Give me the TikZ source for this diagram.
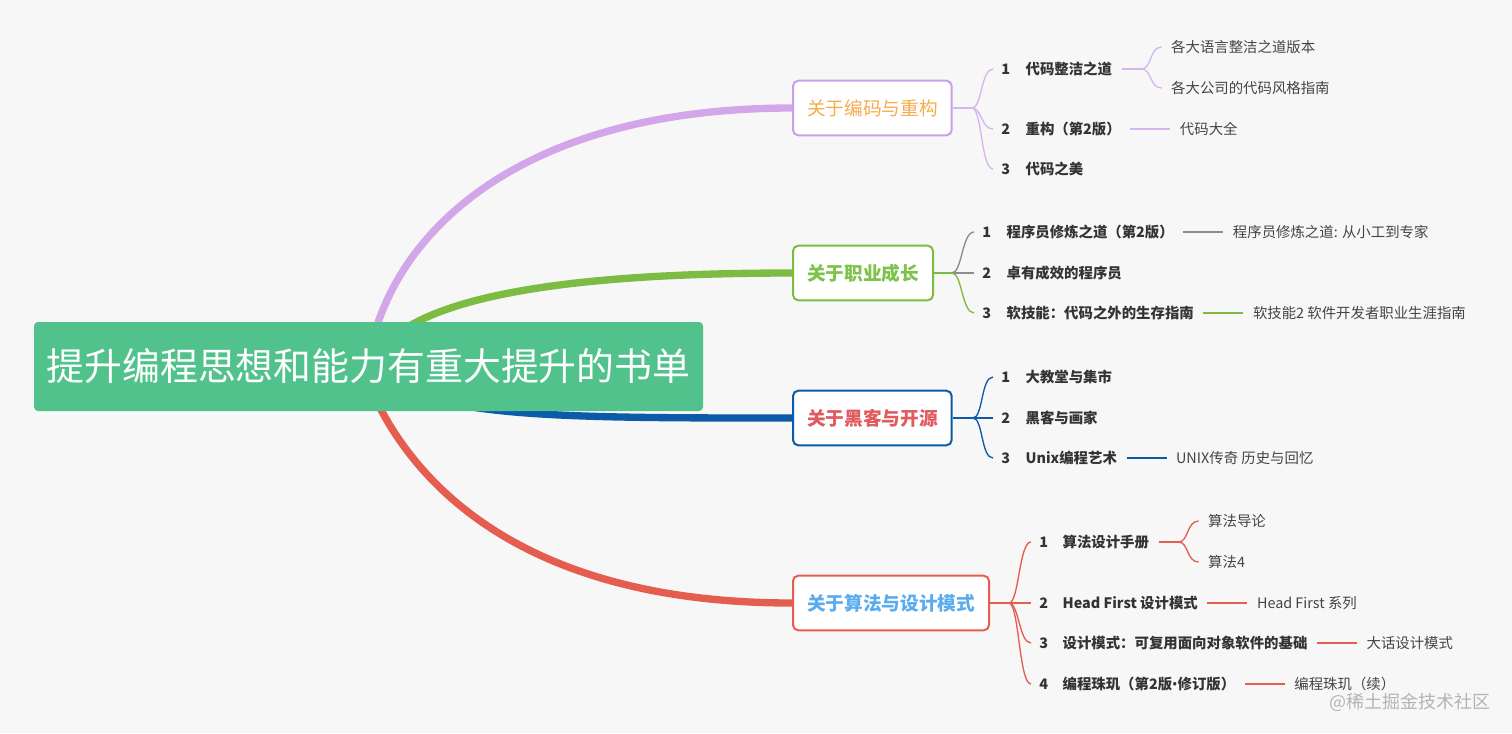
\documentclass[tikz,border=0pt]{standalone}
\usepackage{fontspec}
\setmainfont{Noto Sans CJK SC}
\newfontfamily\latinbullet{Noto Sans}
\usetikzlibrary{calc}
\pgfdeclarelayer{back}
\pgfdeclarelayer{mid}
\pgfsetlayers{back,mid,main}
\definecolor{bg}{HTML}{F7F7F7}
\definecolor{rootc}{HTML}{52C28D}
\definecolor{purp}{HTML}{D3A6E9}
\definecolor{purpb}{HTML}{C9A0E6}
\definecolor{purpl}{HTML}{D7B6EE}
\definecolor{orng}{HTML}{F5AC4C}
\definecolor{grn}{HTML}{7DBB42}
\definecolor{grnt}{HTML}{7DC24A}
\definecolor{blu}{HTML}{0B5BA8}
\definecolor{redt}{HTML}{E05A5E}
\definecolor{red}{HTML}{E55D4F}
\definecolor{blut}{HTML}{5AACF0}
\definecolor{txt}{HTML}{333333}
\definecolor{subtxt}{HTML}{444444}
\definecolor{gry}{HTML}{8C8C8C}
\definecolor{wm}{HTML}{B4B4B4}
\begin{document}
\begin{tikzpicture}[x=0.75pt,y=-0.75pt,
  rootbox/.style={fill=rootc, rounded corners=3pt, text=white, font=\fontsize{28.4}{34}\selectfont, minimum width=501.75pt, minimum height=66.75pt, inner sep=0pt},
  bbox/.style={draw, line width=1.5pt, fill=white, rounded corners=4pt, minimum height=41pt, inner xsep=10.5pt, inner ysep=0pt, font=\fontsize{14}{16}\selectfont},
  bboxb/.style={bbox, font=\bfseries\fontsize{14}{16}\selectfont},
  num/.style={inner xsep=6pt, inner ysep=0pt, font=\bfseries\fontsize{10.8}{13}\selectfont, text=txt},
  ctext/.style={inner xsep=7pt, inner ysep=0pt, font=\bfseries\fontsize{10.8}{13}\selectfont, text=txt},
  stext/.style={inner xsep=7pt, inner ysep=0pt, font=\fontsize{10.8}{13}\selectfont, text=subtxt},
  mainline/.style={line width=5.5pt},
  link/.style={line width=1pt}
]
\begin{pgfonlayer}{back}
\fill[bg] (0,0) rectangle (1512,733);
\end{pgfonlayer}
\useasboundingbox (0,0) rectangle (1512,733);

% branch boxes
\node[bbox, draw=purpb, text=orng, anchor=west] (b1) at (792,108) {关于编码与重构};
\node[bboxb, draw=grn, text=grnt, anchor=west] (b2) at (792,273) {关于职业成长};
\node[bboxb, draw=blu, text=redt, anchor=west] (b3) at (792,418) {关于黑客与开源};
\node[bboxb, draw=red, text=blut, anchor=west] (b4) at (792,603) {关于算法与设计模式};

% root
\node[rootbox] (root) at (368.5,366.5) {提升编程思想和能力有重大提升的书单};

% start points of the main curves, hidden behind the root
\coordinate (p1) at (375,332);
\coordinate (p2) at (400,332);
\coordinate (p3) at (370,366);
\coordinate (p4) at (376,400);

% main curves (behind the root and the boxes)
\begin{pgfonlayer}{mid}
\draw[mainline, purp] (p1) .. controls (410,215) and (540,108) .. (b1.west);
\draw[mainline, grn] (p2) .. controls (460,290) and (600,273) .. (b2.west);
\draw[mainline, blu] (p3) .. controls (420,418) and (550,418) .. (b3.west);
\draw[mainline, red] (p4) .. controls (420,490) and (530,603) .. (b4.west);
\end{pgfonlayer}

% ---------- branch 1 ----------
\coordinate (f1) at (972,108);
\node[num, anchor=west] (n11) at (993,69) {1};
\node[num, anchor=west] (n12) at (993,129) {2};
\node[num, anchor=west] (n13) at (993,169) {3};
\node[ctext, anchor=west] (c11) at (1016,69) {代码整洁之道};
\node[ctext, anchor=west] (c12) at (1016,129) {重构（第2版）};
\node[ctext, anchor=west] (c13) at (1016,169) {代码之美};
\draw[link, purpl] (b1.east) -- (f1);
\foreach \n in {n11,n12,n13} \draw[link, purpl] (f1) .. controls +(10,0) and +(-12,0) .. (\n.west);
\coordinate (f11) at ($(c11.east)+(20,0)$);
\node[stext, anchor=west] (s11a) at ($(c11.east)+(40,-22)$) {各大语言整洁之道版本};
\node[stext, anchor=west] (s11b) at ($(c11.east)+(40,19)$) {各大公司的代码风格指南};
\draw[link, purpl] (c11.east) -- (f11);
\draw[link, purpl] (f11) .. controls +(10,0) and +(-12,0) .. (s11a.west);
\draw[link, purpl] (f11) .. controls +(10,0) and +(-12,0) .. (s11b.west);
\node[stext, anchor=west] (s12) at ($(c12.east)+(40,0)$) {代码大全};
\draw[link, purpl] (c12.east) -- (s12.west);

% ---------- branch 2 ----------
\coordinate (f2) at (952,273);
\node[num, anchor=west] (n21) at (974,232) {1};
\node[num, anchor=west] (n22) at (974,273) {2};
\node[num, anchor=west] (n23) at (974,313) {3};
\node[ctext, anchor=west] (c21) at (997,232) {程序员修炼之道（第2版）};
\node[ctext, anchor=west] (c22) at (997,273) {卓有成效的程序员};
\node[ctext, anchor=west] (c23) at (997,313) {软技能：代码之外的生存指南};
\draw[link, grn] (b2.east) -- (f2);
\draw[link, gry] (f2) .. controls +(10,0) and +(-12,0) .. (n21.west);
\draw[link, gry] (f2) -- (n22.west);
\draw[link, grn] (f2) .. controls +(10,0) and +(-12,0) .. (n23.west);
\node[stext, anchor=west] (s21) at ($(c21.east)+(40,0)$) {程序员修炼之道: 从小工到专家};
\draw[link, gry] (c21.east) -- (s21.west);
\node[stext, anchor=west] (s23) at ($(c23.east)+(40,0)$) {软技能2 软件开发者职业生涯指南};
\draw[link, grn] (c23.east) -- (s23.west);

% ---------- branch 3 ----------
\coordinate (f3) at (973,418);
\node[num, anchor=west] (n31) at (993,377) {1};
\node[num, anchor=west] (n32) at (993,418) {2};
\node[num, anchor=west] (n33) at (993,458) {3};
\node[ctext, anchor=west] (c31) at (1016,377) {大教堂与集市};
\node[ctext, anchor=west] (c32) at (1016,418) {黑客与画家};
\node[ctext, anchor=west] (c33) at (1016,458) {Unix编程艺术};
\draw[link, blu] (b3.east) -- (f3);
\draw[link, blu] (f3) .. controls +(10,0) and +(-12,0) .. (n31.west);
\draw[link, blu] (f3) -- (n32.west);
\draw[link, blu] (f3) .. controls +(10,0) and +(-12,0) .. (n33.west);
\node[stext, anchor=west] (s33) at ($(c33.east)+(40,0)$) {UNIX传奇 历史与回忆};
\draw[link, blu] (c33.east) -- (s33.west);

% ---------- branch 4 ----------
\coordinate (f4) at (1009,603);
\node[num, anchor=west] (n41) at (1031,542) {1};
\node[num, anchor=west] (n42) at (1031,603) {2};
\node[num, anchor=west] (n43) at (1031,643) {3};
\node[num, anchor=west] (n44) at (1031,684) {4};
\node[ctext, anchor=west] (c41) at (1053,542) {算法设计手册};
\node[ctext, anchor=west] (c42) at (1053,603) {Head First 设计模式};
\node[ctext, anchor=west] (c43) at (1053,643) {设计模式：可复用面向对象软件的基础};
\node[ctext, anchor=west] (c44) at (1053,684) {编程珠玑（第2版{\latinbullet •}修订版）};
\draw[link, red] (b4.east) -- (f4);
\draw[link, red] (f4) .. controls +(10,0) and +(-12,0) .. (n41.west);
\draw[link, red] (f4) -- (n42.west);
\draw[link, red] (f4) .. controls +(10,0) and +(-12,0) .. (n43.west);
\draw[link, red] (f4) .. controls +(10,0) and +(-12,0) .. (n44.west);
\coordinate (f41) at ($(c41.east)+(20,0)$);
\node[stext, anchor=west] (s41a) at ($(c41.east)+(40,-21)$) {算法导论};
\node[stext, anchor=west] (s41b) at ($(c41.east)+(40,20)$) {算法4};
\draw[link, red] (c41.east) -- (f41);
\draw[link, red] (f41) .. controls +(10,0) and +(-12,0) .. (s41a.west);
\draw[link, red] (f41) .. controls +(10,0) and +(-12,0) .. (s41b.west);
\node[stext, anchor=west] (s42) at ($(c42.east)+(40,0)$) {Head First 系列};
\draw[link, red] (c42.east) -- (s42.west);
\node[stext, anchor=west] (s43) at ($(c43.east)+(40,0)$) {大话设计模式};
\draw[link, red] (c43.east) -- (s43.west);
\node[stext, anchor=west] (s44) at ($(c44.east)+(40,0)$) {编程珠玑（续）};
\draw[link, red] (c44.east) -- (s44.west);

% watermark
\node[anchor=west, inner sep=0pt, text=wm, font=\fontsize{13.5}{16}\selectfont] (wmk) at (1329,702) {@稀土掘金技术社区};
\end{tikzpicture}
\end{document}
